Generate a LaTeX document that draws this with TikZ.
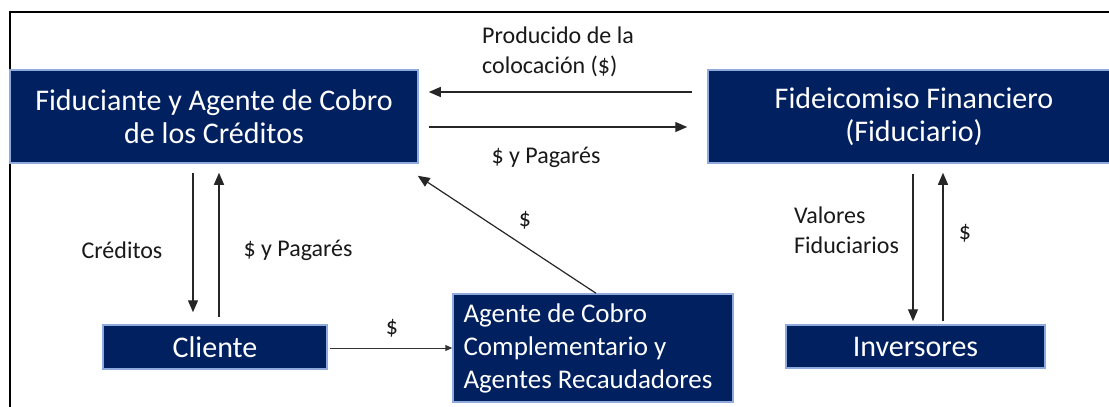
\documentclass[tikz,border=0pt]{standalone}
\usepackage{fontspec}
\setmainfont{Carlito}
\usetikzlibrary{arrows.meta}
\definecolor{navy}{HTML}{002060}
\definecolor{boxedge}{HTML}{8FAADC}
\begin{document}
\begin{tikzpicture}[x=1pt,y=-1pt,
  box/.style={draw=boxedge, line width=1.5pt, fill=navy, text=white,
    font=\fontsize{30}{33}\selectfont, align=center, inner sep=0pt},
  arr/.style={draw=black!85, line width=1.2pt, -{Triangle[length=12pt,width=10pt]}},
  smallarr/.style={draw=black!80, line width=1pt, -{Triangle[length=7pt,width=6pt]}},
  lab/.style={font=\fontsize{24}{30}\selectfont, text=black!90, inner sep=0pt}]
\useasboundingbox (0,0) rectangle (1109,407);
\clip (0,0) rectangle (1109,407);
\fill[white] (0,0) rectangle (1109,407);
% frame
\draw[line width=2pt] (1110,12) -- (10,12) -- (10,408);
% boxes
\node[box, minimum width=408pt, minimum height=93pt] (fid) at (214,116.5)
  {Fiduciante y Agente de Cobro\\de los Créditos};
\node[box, minimum width=412pt, minimum height=93pt] (fide) at (914,116.5)
  {Fideicomiso Financiero\\(Fiduciario)};
\node[box, minimum width=224pt, minimum height=44pt] (cli) at (215,347) {Cliente};
\node[box, minimum width=280pt, minimum height=108pt, align=left,
  font=\fontsize{27}{33}\selectfont] (age) at (593,348)
  {Agente de Cobro\\Complementario y\\Agentes Recaudadores\hspace*{10pt}};
\node[box, minimum width=259pt, minimum height=43pt] (inv) at (915.5,346.5) {Inversores};
% top arrows
\draw[arr] ([shift={(-15,-24.5)}]fide.west) -- ([shift={(10,-24.5)}]fid.east);
\draw[arr] ([shift={(10,10.5)}]fid.east) -- ([shift={(-20,10.5)}]fide.west);
\node[lab, align=left] (lprod) at (558,52) {Producido de la\\colocación (\$)};
\node[lab] (lpag1) at (546,157) {\$ y Pagarés};
% left verticals
\draw[arr] ([shift={(-21,9)}]fid.south) -- ([shift={(-22,-12)}]cli.north);
\draw[arr] ([shift={(4,-7)}]cli.north) -- ([shift={(5,9)}]fid.south);
\node[lab] (lcred) at (122,250) {Créditos};
\node[lab] (lpag2) at (298,250) {\$ y Pagarés};
% cliente -> agente
\draw[smallarr] ([shift={(2,1)}]cli.east) -- (age.west);
\node[lab] (ld1) at (392,328) {\$};
% agente -> fiduciante
\draw[arr] ([shift={(3,0)}]age.north) -- ([shift={(-1,12)}]fid.south east);
\node[lab] (ld2) at (525,220) {\$};
% right verticals
\draw[arr] ([shift={(-1,10)}]fide.south) -- ([shift={(-2.5,-3)}]inv.north);
\draw[arr] ([shift={(27.5,-3)}]inv.north) -- ([shift={(29,9)}]fide.south);
\node[lab, align=left, anchor=west] (lval) at (794,230) {Valores\\Fiduciarios};
\node[lab] (ld3) at (965,233) {\$};
\end{tikzpicture}
\end{document}
